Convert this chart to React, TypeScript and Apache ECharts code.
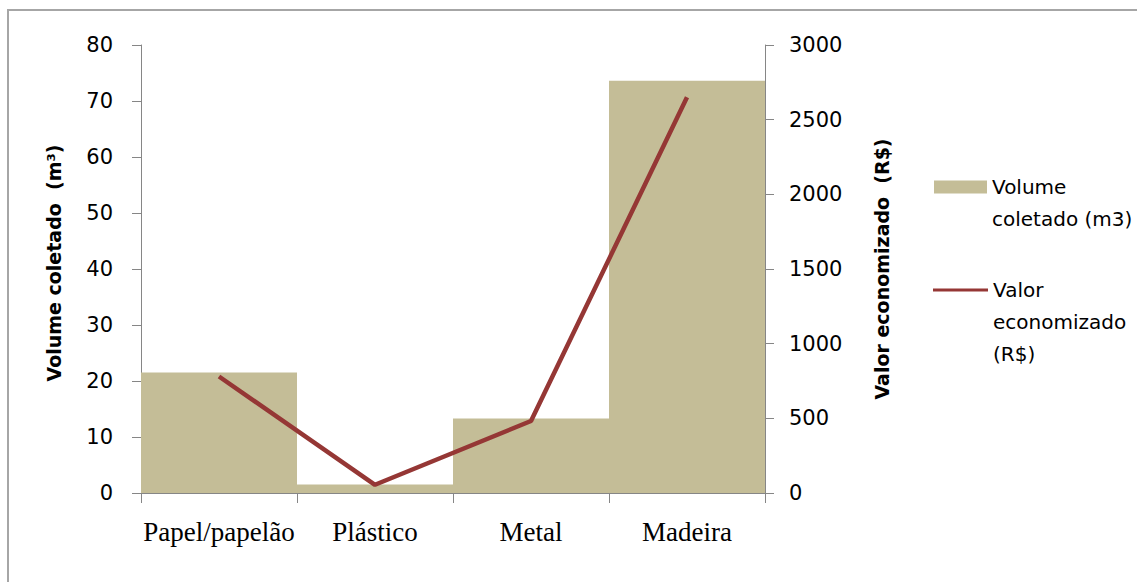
import React, { useEffect, useRef } from "react";
import * as echarts from "echarts";

const categories = ["Papel/papelão", "Plástico", "Metal", "Madeira"];
const volumeColetado = [21.5, 1.5, 13.3, 73.6];
const valorEconomizado = [780, 55, 482, 2650];
const volumeName = "Volume coletado (m3)";
const valorName = "Valor economizado (R$)";

export default function App() {
  const ref = useRef<HTMLDivElement>(null);
  useEffect(() => {
    if (!ref.current) return;
    const chart = echarts.init(ref.current, null, { renderer: "svg" });
    const sans = "DejaVu Sans";
    chart.setOption({
      animation: false,
      backgroundColor: "#ffffff",
      graphic: [
        {
          type: "rect",
          shape: { x: 8, y: 10, width: 1200, height: 600 },
          style: { fill: "none", stroke: "#a6a6a6", lineWidth: 2 },
          silent: true,
          z: -10,
        },
      ],
      grid: { left: 141, right: 372, top: 45, bottom: 89, containLabel: false },
      legend: [
        {
          data: [{ name: volumeName, icon: "rect" }],
          orient: "vertical",
          left: 934,
          top: 139,
          padding: 0,
          itemWidth: 53,
          itemHeight: 13,
          formatter: () => "\nVolume\ncoletado (m3)",
          textStyle: { fontFamily: sans, fontSize: 20, color: "#000", lineHeight: 32 },
        },
        {
          data: [{ name: valorName, icon: "rect" }],
          orient: "vertical",
          left: 933,
          top: 210,
          padding: 0,
          itemWidth: 55,
          itemHeight: 3,
          formatter: () => "\n\nValor\neconomizado\n(R$)",
          textStyle: { fontFamily: sans, fontSize: 20, color: "#000", lineHeight: 32 },
        },
      ],
      xAxis: {
        type: "category",
        data: categories,
        boundaryGap: true,
        axisLine: { lineStyle: { color: "#868686", width: 1 } },
        axisTick: { show: true, length: 10, lineStyle: { color: "#868686" } },
        axisLabel: {
          margin: 25,
          fontFamily: "Liberation Serif",
          fontSize: 27,
          color: "#000",
          interval: 0,
        },
      },
      yAxis: [
        {
          type: "value",
          min: 0,
          max: 80,
          interval: 10,
          position: "left",
          name: "Volume coletado  (m³)",
          nameLocation: "middle",
          nameGap: 78,
          nameTextStyle: { fontFamily: sans, fontWeight: "bold", fontSize: 19, color: "#000", padding: [0, 0, 0, 12] },
          axisLine: { show: true, lineStyle: { color: "#868686" } },
          axisTick: { show: true, length: 9, lineStyle: { color: "#868686" } },
          axisLabel: { margin: 28, fontFamily: sans, fontSize: 21, color: "#000" },
          splitLine: { show: false },
        },
        {
          type: "value",
          min: 0,
          max: 3000,
          interval: 500,
          position: "right",
          name: "Valor economizado  (R$)",
          nameLocation: "middle",
          nameGap: 107,
          nameTextStyle: { fontFamily: sans, fontWeight: "bold", fontSize: 19, color: "#000" },
          axisLine: { show: true, lineStyle: { color: "#868686" } },
          axisTick: { show: true, length: 9, lineStyle: { color: "#868686" } },
          axisLabel: {
            margin: 24,
            fontFamily: sans,
            fontSize: 21,
            color: "#000",
            formatter: (v: number) => String(v),
          },
          splitLine: { show: false },
        },
      ],
      series: [
        {
          name: volumeName,
          type: "bar",
          yAxisIndex: 0,
          data: volumeColetado,
          barCategoryGap: "0%",
          itemStyle: { color: "#C4BD97" },
        },
        {
          name: valorName,
          type: "line",
          yAxisIndex: 1,
          data: valorEconomizado,
          symbol: "none",
          lineStyle: { color: "#953735", width: 4.5 },
          itemStyle: { color: "#953735" },
        },
      ],
    });
    return () => chart.dispose();
  }, []);
  return (
    <div
      ref={ref}
      style={{ position: "absolute", left: 0, top: 0, width: 1137, height: 582 }}
    />
  );
}
